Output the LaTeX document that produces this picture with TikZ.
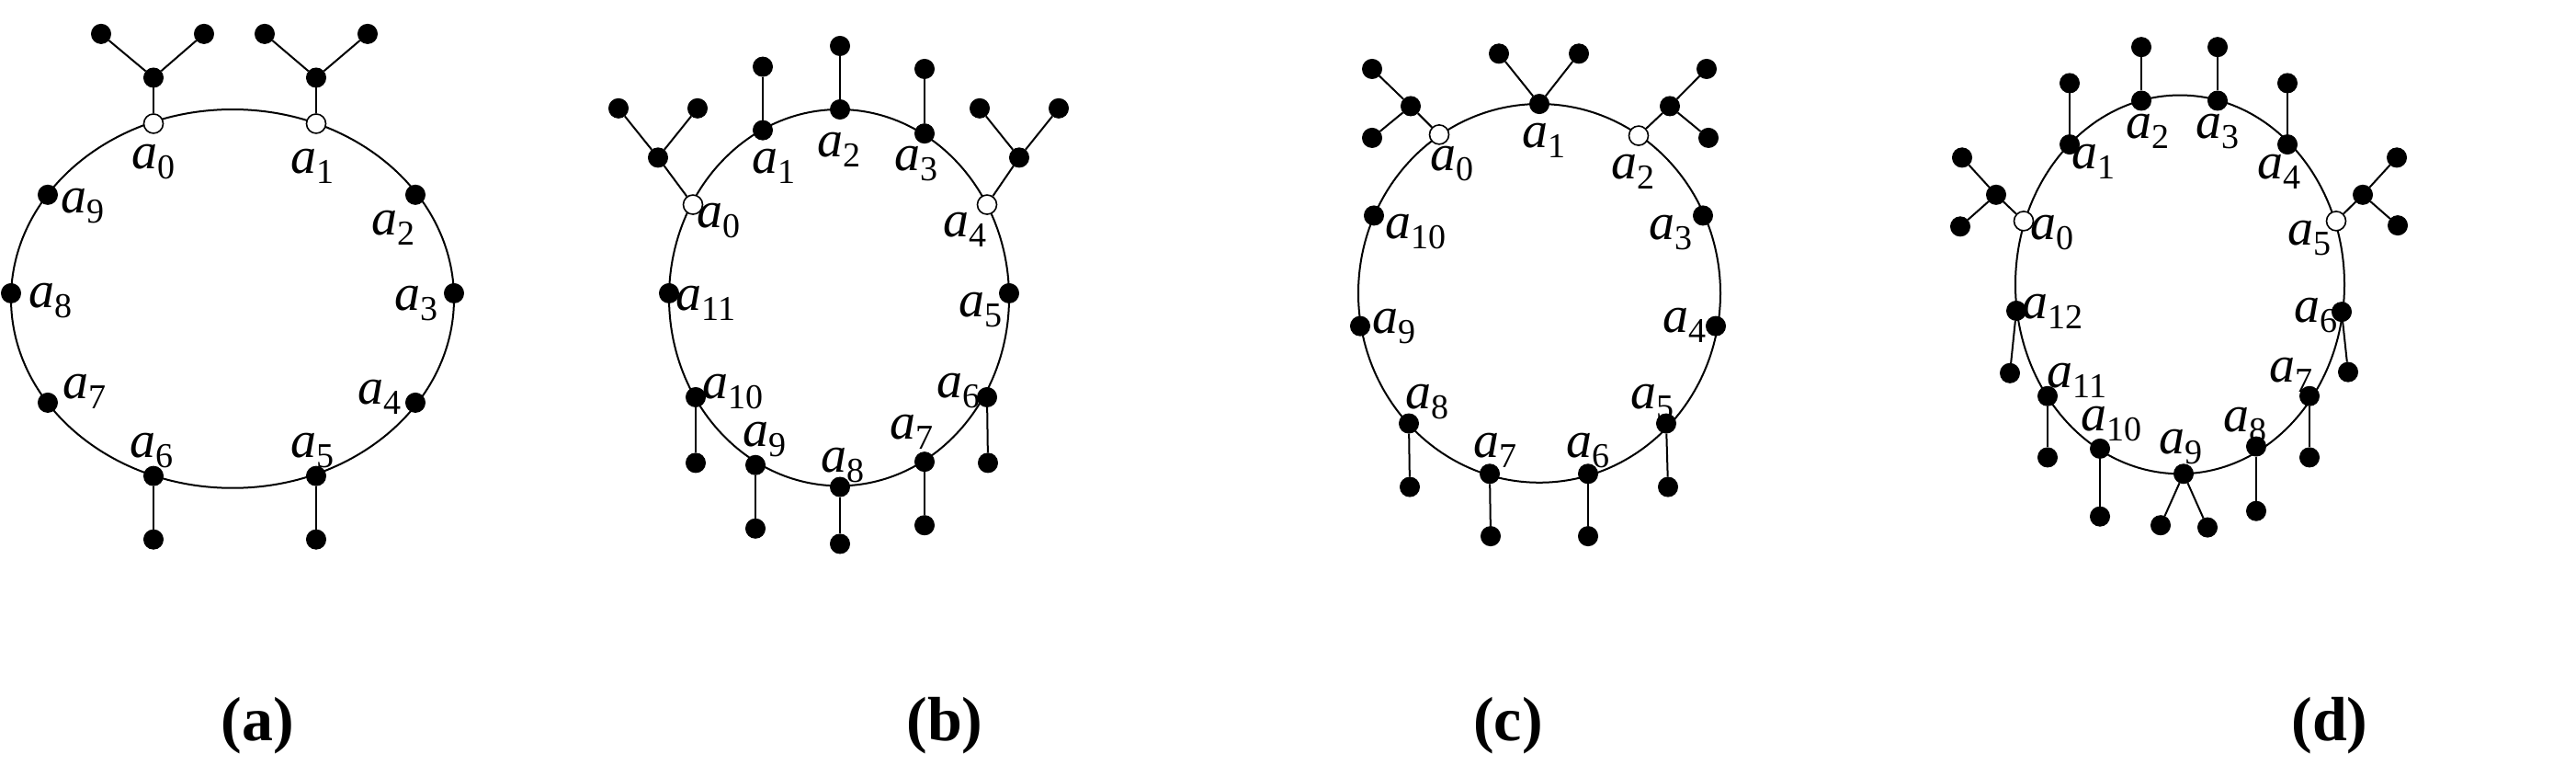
\documentclass[tikz,border=0pt]{standalone}
\usepackage{fontspec}
\setmainfont{Liberation Serif}
\newcommand\alab[1]{\textit{a}\raisebox{-11pt}{\fontsize{38}{38}\selectfont #1}}
\begin{document}
\begin{tikzpicture}[x=1pt,y=-1.19pt,line width=2pt,
  bk/.style={circle,fill=black,draw=black,line width=1pt,inner sep=0pt,minimum size=21pt},
  wt/.style={circle,fill=white,draw=black,line width=1.6pt,inner sep=0pt,minimum size=21pt},
  lab/.style={inner sep=0pt,font=\fontsize{56}{60}\selectfont},
  captxt/.style={inner sep=0pt,font=\fontsize{68}{72}\selectfont\bfseries}]
\useasboundingbox (0,0) rectangle (2803,710.08);
% ---------- (a)
\draw (253,273) ellipse [x radius=241,y radius=173];
\foreach \n/\x/\y/\s in {0/167/113/wt,1/344/113/wt,2/452/178/bk,3/494/268/bk,4/452/368/bk,5/344/435/bk,6/167/435/bk,7/52/368/bk,8/12/268/bk,9/52/178/bk}
  \node[\s] (A\n) at (\x,\y) {};
\foreach \n/\p/\x/\y in {t0/A0/167/71,t1/A1/344/71,l1/At0/110/31,l2/At0/222/31,l3/At1/288/31,l4/At1/400/31,l5/A5/344/493,l6/A6/167/493}
  {\node[bk] (A\n) at (\x,\y) {}; \draw (\p) -- (A\n);}
\foreach \n/\x/\y in {0/167/148,1/340/152,2/428/208,3/453/277,4/413/363,5/340/412,6/165/412,7/92/358,8/55/275,9/90/188}
  \node[lab] (LA\n) at (\x,\y) {\alab{\n}};
\node[captxt] (capa) at (280,663) {(a)};
% ---------- (b)
\draw (913,272) ellipse [x radius=185,y radius=172];
\foreach \n/\x/\y/\s in {0/754/187/wt,1/830/119/bk,2/914/100/bk,3/1006/122/bk,4/1074/187/wt,5/1098/268/bk,6/1074/363/bk,7/1006/422/bk,8/914/445/bk,9/822/425/bk,10/757/363/bk,11/728/268/bk}
  \node[\s] (B\n) at (\x,\y) {};
\foreach \n/\p/\x/\y in {t0/B0/716/144,t4/B4/1109/144,l1/Bt0/673/99,l2/Bt0/759/99,l3/Bt4/1066/99,l4/Bt4/1152/99,m1/B1/830/61,m2/B2/914/42,m3/B3/1006/63,m6/B6/1075/423,m7/B7/1006/480,m8/B8/914/497,m9/B9/822/483,m10/B10/757/423}
  {\node[bk] (B\n) at (\x,\y) {}; \draw (\p) -- (B\n);}
\foreach \n/\x/\y in {0/782/202,1/842/152,2/913/137,3/997/150,4/1050/210,5/1067/283,6/1043/357,7/992/395,8/917/425,9/832/402,10/797/358,11/768/277}
  \node[lab] (LB\n) at (\x,\y) {\alab{\n}};
\node[captxt] (capb) at (1028,663) {(b)};
% ---------- (c)
\draw (1675,268) ellipse [x radius=197,y radius=173];
\foreach \n/\x/\y/\s in {0/1566/123/wt,1/1675/95/bk,2/1783/124/wt,3/1853/197/bk,4/1867/298/bk,5/1813/387/bk,6/1728/433/bk,7/1621/433/bk,8/1533/387/bk,9/1480/298/bk,10/1495/197/bk}
  \node[\s] (C\n) at (\x,\y) {};
\foreach \n/\p/\x/\y in {t0/C0/1535/97,t2/C2/1817/97,l1/Ct0/1493/63,l2/Ct0/1493/126,l3/Ct2/1857/63,l4/Ct2/1859/126,l5/C1/1631/49,l6/C1/1718/49,m5/C5/1815/445,m6/C6/1728/490,m7/C7/1622/490,m8/C8/1534/445}
  {\node[bk] (C\n) at (\x,\y) {}; \draw (\p) -- (C\n);}
\foreach \n/\x/\y in {0/1580/150,1/1680/128,2/1777/157,3/1818/213,4/1833/297,5/1798/367,6/1728/412,7/1627/412,8/1553/367,9/1517/298,10/1540/212}
  \node[lab] (LC\n) at (\x,\y) {\alab{\n}};
\node[captxt] (capc) at (1641,663) {(c)};
% ---------- (d)
\draw (2372,260) ellipse [x radius=179,y radius=173];
\foreach \n/\x/\y/\s in {0/2202/202/wt,1/2252/132/bk,2/2330/92/bk,3/2413/92/bk,4/2489/132/bk,5/2542/202/wt,6/2548/285/bk,7/2513/362/bk,8/2455/408/bk,9/2376/433/bk,10/2285/410/bk,11/2228/362/bk,12/2194/284/bk}
  \node[\s] (D\n) at (\x,\y) {};
\foreach \n/\p/\x/\y in {t0/D0/2172/178,t5/D5/2571/178,l1/Dt0/2135/144,l2/Dt0/2133/207,l3/Dt5/2608/144,l4/Dt5/2609/206,m1/D1/2252/76,m2/D2/2330/43,m3/D3/2413/43,m4/D4/2489/76,m6/D6/2555/340,m7/D7/2513/418,m8/D8/2455/467,m9a/D9/2351/480,m9b/D9/2402/482,m10/D10/2285/472,m11/D11/2228/418,m12/D12/2187/341}
  {\node[bk] (D\n) at (\x,\y) {}; \draw (\p) -- (D\n);}
\foreach \n/\x/\y in {0/2233/213,1/2278/148,2/2337/120,3/2413/120,4/2480/157,5/2513/218,6/2520/288,7/2493/343,8/2443/388,9/2373/408,10/2297/387,11/2260/348,12/2233/285}
  \node[lab] (LD\n) at (\x,\y) {\alab{\n}};
\node[captxt] (capd) at (2535,663) {(d)};
\end{tikzpicture}
\end{document}
